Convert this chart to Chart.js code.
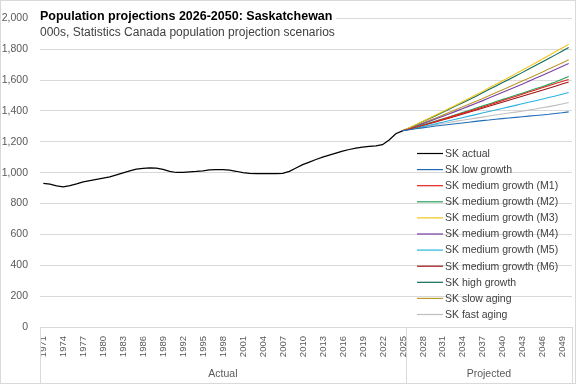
<!DOCTYPE html>
<html>
<head>
<meta charset="utf-8">
<script src="https://cdn.jsdelivr.net/npm/chart.js@4.4.1/dist/chart.umd.min.js"></script>
<style>
    body { margin: 0; background: #fff; }
    #wrap { width: 576px; height: 384px; position: relative; }
</style>
</head>
<body>
<div id="wrap"><canvas id="chart"></canvas></div>
<script>
let title = "Population projections 2026-2050: Saskatchewan";
let subtitle = "000s, Statistics Canada population projection scenarios";

let years = [];
for (let y = 1971; y <= 2050; y++) years.push(String(y));

let groups = [
    { label: "Actual", from: "1971", to: "2025" },
    { label: "Projected", from: "2026", to: "2050" }
];

// 1971 - 2025
let actual = [
    931, 925, 914, 908, 916, 927, 940, 948, 956, 964,
    972, 985, 998, 1011, 1023, 1028, 1031, 1029, 1021, 1008,
    1001, 1002, 1005, 1008, 1012, 1018, 1020, 1020, 1017, 1009,
    1000, 995, 994, 994, 994, 993, 995, 1008, 1030, 1052,
    1068, 1085, 1100, 1113, 1127, 1140, 1150, 1159, 1166, 1171,
    1173, 1181, 1212, 1252, 1271
];

// 2025 - 2050
let lowGrowth = [1271, 1278, 1284, 1290, 1296, 1302, 1307, 1312, 1317, 1322, 1327, 1332, 1337, 1341, 1346, 1350, 1354, 1358, 1362, 1366, 1370, 1374, 1378, 1383, 1388, 1394];
let m1 = [1271, 1282, 1294, 1306, 1319, 1332, 1345, 1358, 1371, 1384, 1397, 1410, 1424, 1438, 1452, 1466, 1480, 1494, 1508, 1522, 1536, 1550, 1563, 1577, 1590, 1604];
let m2 = [1271, 1283, 1295, 1308, 1321, 1334, 1347, 1361, 1375, 1389, 1403, 1417, 1431, 1445, 1459, 1473, 1487, 1501, 1515, 1529, 1543, 1557, 1572, 1587, 1605, 1623];
let m3 = [1271, 1291, 1311, 1331, 1352, 1373, 1394, 1415, 1437, 1459, 1481, 1503, 1525, 1548, 1571, 1594, 1617, 1640, 1663, 1687, 1711, 1735, 1759, 1783, 1807, 1831];
let m4 = [1271, 1286, 1301, 1316, 1332, 1348, 1364, 1380, 1397, 1414, 1431, 1448, 1465, 1483, 1501, 1519, 1537, 1555, 1573, 1592, 1611, 1630, 1649, 1668, 1688, 1707];
let m5 = [1271, 1280, 1289, 1298, 1307, 1316, 1326, 1336, 1346, 1356, 1366, 1376, 1386, 1396, 1406, 1416, 1426, 1436, 1446, 1456, 1466, 1476, 1487, 1497, 1508, 1519];
let m6 = [1271, 1282, 1293, 1305, 1317, 1329, 1341, 1353, 1365, 1378, 1391, 1404, 1417, 1430, 1443, 1456, 1469, 1482, 1495, 1508, 1521, 1534, 1547, 1560, 1574, 1587];
let highGrowth = [1271, 1290, 1309, 1329, 1349, 1369, 1389, 1410, 1431, 1452, 1473, 1494, 1516, 1538, 1560, 1582, 1604, 1626, 1648, 1671, 1694, 1717, 1740, 1763, 1787, 1811];
let slowAging = [1271, 1287, 1303, 1320, 1337, 1354, 1371, 1389, 1407, 1425, 1443, 1461, 1479, 1498, 1517, 1536, 1555, 1574, 1593, 1612, 1631, 1651, 1671, 1691, 1711, 1732];
let fastAging = [1271, 1279, 1287, 1295, 1303, 1311, 1318, 1325, 1332, 1339, 1346, 1353, 1360, 1367, 1374, 1380, 1386, 1392, 1398, 1405, 1412, 1420, 1428, 1436, 1445, 1454];

let yTicks = { min: 0, max: 2000, step: 200 };

function pad(arr, before, total) {
    let out = [];
    for (let i = 0; i < before; i++) out.push(null);
    out = out.concat(arr);
    while (out.length < total) out.push(null);
    return out;
}

let projStart = years.indexOf("2025");

function line(label, data, color, width, start) {
    return {
        label: label,
        data: pad(data, start, years.length),
        borderColor: color,
        backgroundColor: color,
        borderWidth: width,
        pointRadius: 0,
        fill: false,
        tension: 0,
        spanGaps: false
    };
}

let datasets = [
    line("SK actual", actual, "#000000", 1.25, 0),
    line("SK low growth", lowGrowth, "#1F6BB5", 1.1, projStart),
    line("SK medium growth (M1)", m1, "#E3211C", 1.1, projStart),
    line("SK medium growth (M2)", m2, "#24A25A", 1.1, projStart),
    line("SK medium growth (M3)", m3, "#F2C418", 1.1, projStart),
    line("SK medium growth (M4)", m4, "#7A3FA6", 1.1, projStart),
    line("SK medium growth (M5)", m5, "#2AB3E0", 1.1, projStart),
    line("SK medium growth (M6)", m6, "#A01414", 1.1, projStart),
    line("SK high growth", highGrowth, "#0F6B58", 1.1, projStart),
    line("SK slow aging", slowAging, "#BC9A2C", 1.1, projStart),
    line("SK fast aging", fastAging, "#BFBFBF", 1.1, projStart)
];

let tickFont = "'Liberation Sans', Arial, sans-serif";

let decor = {
    id: "decor",
    afterDatasetsDraw(chart) {
        let ctx = chart.ctx;
        let xs = chart.scales.x;
        let area = chart.chartArea;
        ctx.save();

        // title box sits on top of the plot area
        ctx.fillStyle = "#fff";
        ctx.fillRect(38, 4, 298, 33);
        ctx.fillStyle = "#000";
        ctx.font = "bold 12.5px " + tickFont;
        ctx.textAlign = "left";
        ctx.textBaseline = "alphabetic";
        ctx.fillText(title, 40, 20);
        ctx.fillStyle = "#404040";
        ctx.font = "12px " + tickFont;
        ctx.fillText(subtitle, 40, 36);

        // x labels, every third year, rotated bottom-to-top
        ctx.fillStyle = "#595959";
        ctx.font = "9.5px " + tickFont;
        for (let i = 0; i < years.length - 1; i += 3) {
            let x = xs.getPixelForValue(i);
            ctx.save();
            ctx.translate(x, area.bottom + 9);
            ctx.rotate(-Math.PI / 2);
            ctx.textAlign = "right";
            ctx.textBaseline = "middle";
            ctx.fillText(years[i], 0, 0.5);
            ctx.restore();
        }

        // group labels and dividers
        let band = xs.getPixelForValue(1) - xs.getPixelForValue(0);
        ctx.strokeStyle = "#D9D9D9";
        ctx.lineWidth = 1;
        ctx.font = "10.5px " + tickFont;
        ctx.textAlign = "center";
        ctx.textBaseline = "middle";
        for (let g of groups) {
            let x0 = xs.getPixelForValue(years.indexOf(g.from)) - band / 2;
            let x1 = xs.getPixelForValue(years.indexOf(g.to)) + band / 2;
            ctx.beginPath();
            ctx.moveTo(Math.round(x0) + 0.5, area.bottom);
            ctx.lineTo(Math.round(x0) + 0.5, 383);
            ctx.moveTo(Math.round(x1) + 0.5, area.bottom);
            ctx.lineTo(Math.round(x1) + 0.5, 383);
            ctx.stroke();
            ctx.fillText(g.label, (x0 + x1) / 2, 374);
        }

        // legend inside plot, lower right
        ctx.font = "10.5px " + tickFont;
        ctx.textAlign = "left";
        ctx.textBaseline = "middle";
        chart.data.datasets.forEach((ds, i) => {
            let y = 153.5 + i * 16.1;
            ctx.strokeStyle = ds.borderColor;
            ctx.lineWidth = 1.2;
            ctx.beginPath();
            ctx.moveTo(417, y);
            ctx.lineTo(443, y);
            ctx.stroke();
            ctx.fillStyle = "#404040";
            ctx.fillText(ds.label, 445, y + 0.5);
        });

        // chart border
        ctx.strokeStyle = "#D9D9D9";
        ctx.lineWidth = 1;
        ctx.strokeRect(0.5, 0.5, 575, 383);
        ctx.restore();
    }
};

let graph = new Chart(document.getElementById("chart"), {
    type: "line",
    data: {
        labels: years,
        datasets: datasets
    },
    options: {
        responsive: true,
        maintainAspectRatio: false,
        animation: false,
        layout: { padding: { top: 7, right: 4, left: 0, bottom: 0 } },
        plugins: {
            legend: { display: false },
            tooltip: { enabled: false }
        },
        scales: {
            x: {
                type: "category",
                offset: true,
                grid: { display: false },
                border: { display: false },
                ticks: { display: false },
                afterFit: (s) => { s.height = 57; }
            },
            y: {
                min: yTicks.min,
                max: yTicks.max,
                grid: { color: "#D9D9D9", drawTicks: false },
                border: { display: false },
                ticks: {
                    stepSize: yTicks.step,
                    padding: 12,
                    color: "#595959",
                    font: { family: tickFont, size: 10.5 },
                    callback: (v) => v.toLocaleString("en-US")
                },
                afterFit: (s) => { s.width = 40; }
            }
        }
    },
    plugins: [decor]
});
</script>
</body>
</html>
